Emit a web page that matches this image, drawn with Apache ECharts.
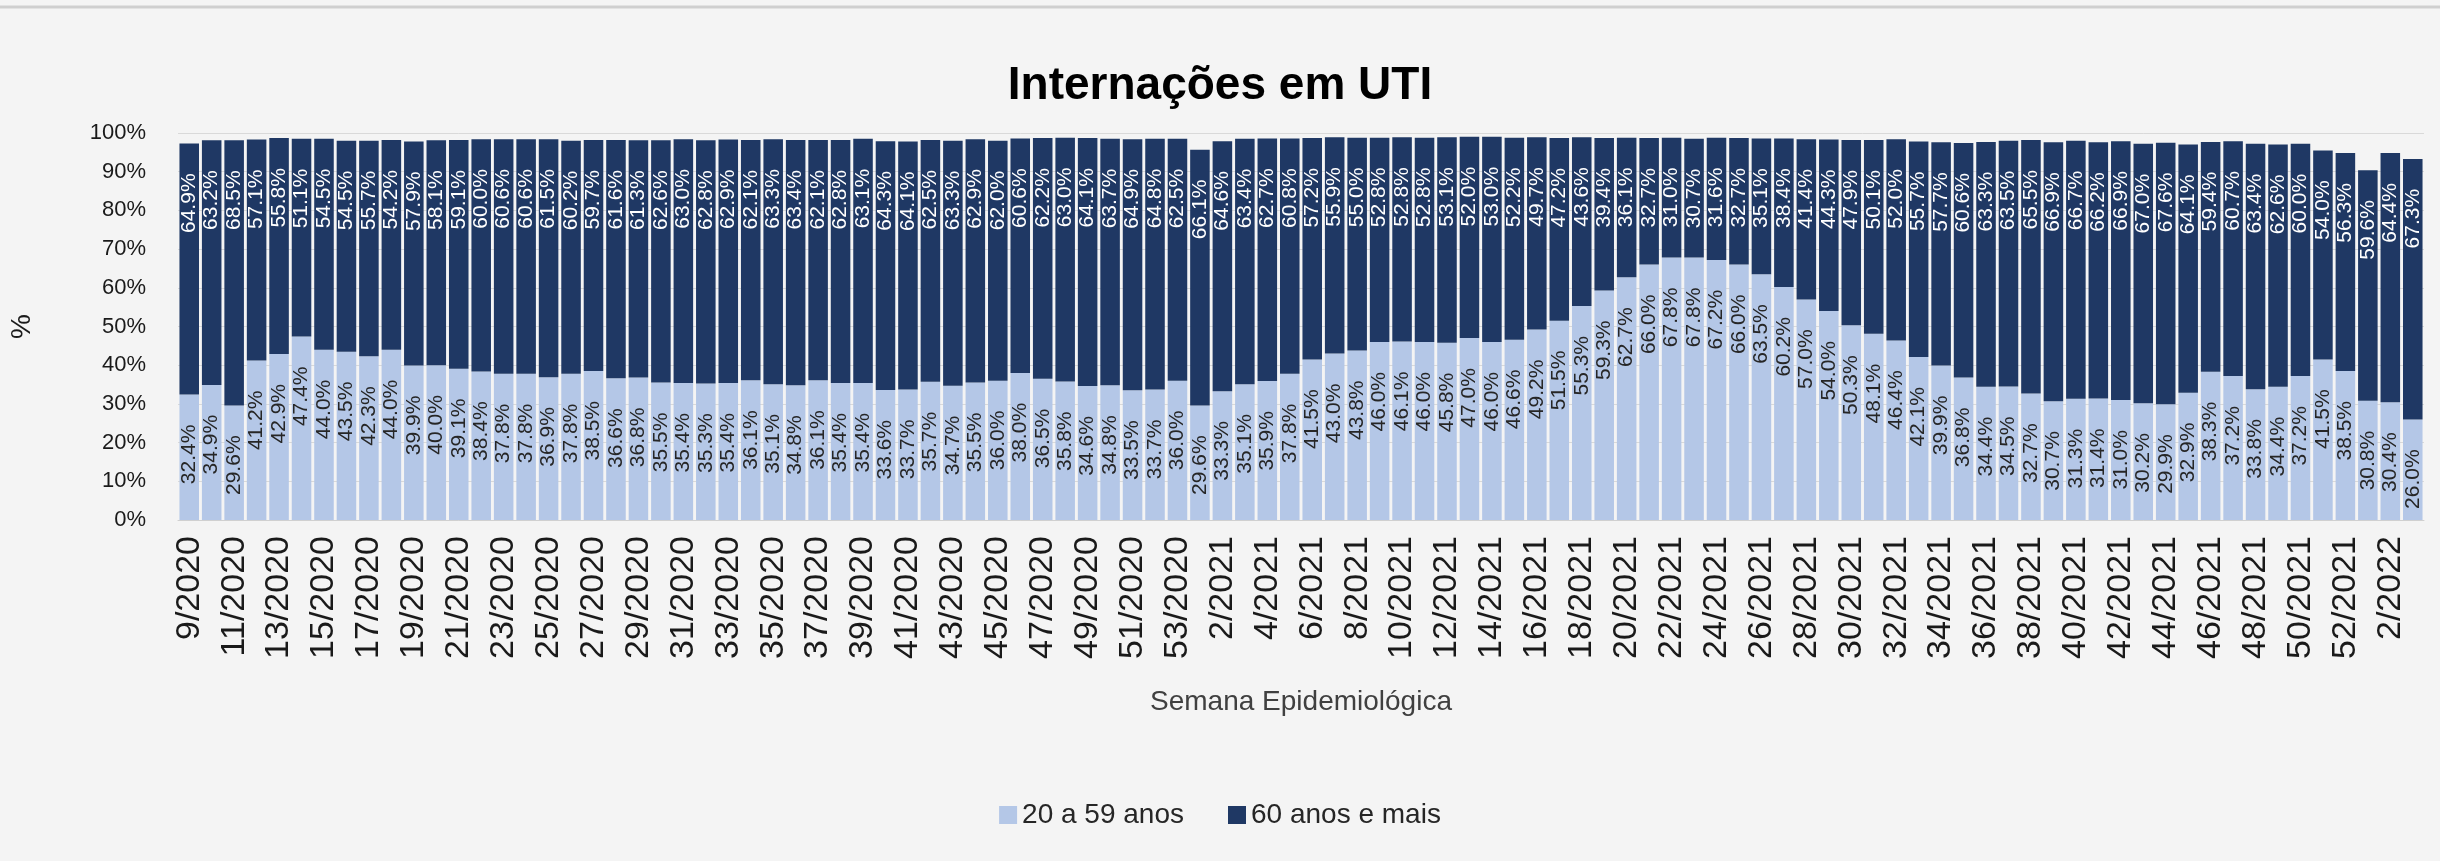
<!DOCTYPE html>
<html>
<head>
<meta charset="utf-8">
<title>Internações em UTI</title>
<script src="https://cdn.jsdelivr.net/npm/echarts@6/dist/echarts.min.js"></script>
<style>
  html, body { margin: 0; padding: 0; background: #f4f4f4; }
  #chart { width: 2440px; height: 861px; }
</style>
</head>
<body>
<div id="chart"></div>
<script>
// semanas epidemiológicas
const weeks2020 = [9,10,11,12,13,14,15,16,17,18,19,20,21,22,23,24,25,26,27,28,29,30,31,32,33,34,35,36,37,38,39,40,41,42,43,44,45,46,47,48,49,50,51,52,53];
const weeks2021 = [1,2,3,4,5,6,7,8,9,10,11,12,13,14,15,16,17,18,19,20,21,22,23,24,25,26,27,28,29,30,31,32,33,34,35,36,37,38,39,40,41,42,43,44,45,46,47,48,49,50,51,52];
const weeks2022 = [1,2,3];

const categories = []
  .concat(weeks2020.map(w => w + "/2020"))
  .concat(weeks2021.map(w => w + "/2021"))
  .concat(weeks2022.map(w => w + "/2022"));

// 20 a 59 anos (%)
const adultos = [
  32.4, 34.9, 29.6, 41.2, 42.9, 47.4, 44.0, 43.5, 42.3, 44.0,
  39.9, 40.0, 39.1, 38.4, 37.8, 37.8, 36.9, 37.8, 38.5, 36.6,
  36.8, 35.5, 35.4, 35.3, 35.4, 36.1, 35.1, 34.8, 36.1, 35.4,
  35.4, 33.6, 33.7, 35.7, 34.7, 35.5, 36.0, 38.0, 36.5, 35.8,
  34.6, 34.8, 33.5, 33.7, 36.0,
  29.6, 33.3, 35.1, 35.9, 37.8, 41.5, 43.0, 43.8, 46.0, 46.1,
  46.0, 45.8, 47.0, 46.0, 46.6, 49.2, 51.5, 55.3, 59.3, 62.7,
  66.0, 67.8, 67.8, 67.2, 66.0, 63.5, 60.2, 57.0, 54.0, 50.3,
  48.1, 46.4, 42.1, 39.9, 36.8, 34.4, 34.5, 32.7, 30.7, 31.3,
  31.4, 31.0, 30.2, 29.9, 32.9, 38.3, 37.2, 33.8, 34.4, 37.2,
  41.5, 38.5,
  30.8, 30.4, 26.0
];

// 60 anos e mais (%)
const idosos = [
  64.9, 63.2, 68.5, 57.1, 55.8, 51.1, 54.5, 54.5, 55.7, 54.2,
  57.9, 58.1, 59.1, 60.0, 60.6, 60.6, 61.5, 60.2, 59.7, 61.6,
  61.3, 62.6, 63.0, 62.8, 62.9, 62.1, 63.3, 63.4, 62.1, 62.8,
  63.1, 64.3, 64.1, 62.5, 63.3, 62.9, 62.0, 60.6, 62.2, 63.0,
  64.1, 63.7, 64.9, 64.8, 62.5,
  66.1, 64.6, 63.4, 62.7, 60.8, 57.2, 55.9, 55.0, 52.8, 52.8,
  52.8, 53.1, 52.0, 53.0, 52.2, 49.7, 47.2, 43.6, 39.4, 36.1,
  32.7, 31.0, 30.7, 31.6, 32.7, 35.1, 38.4, 41.4, 44.3, 47.9,
  50.1, 52.0, 55.7, 57.7, 60.6, 63.3, 63.5, 65.5, 66.9, 66.7,
  66.2, 66.9, 67.0, 67.6, 64.1, 59.4, 60.7, 63.4, 62.6, 60.0,
  54.0, 56.3,
  59.6, 64.4, 67.3
];

const yTicks = [0, 10, 20, 30, 40, 50, 60, 70, 80, 90, 100];

const chart = echarts.init(document.getElementById("chart"));

// rótulos verticais, dentro da barra perto do topo
const labelBase = {
  show: true,
  position: "insideTop",
  distance: 30,
  rotate: 90,
  align: "right",
  verticalAlign: "middle",
  fontFamily: "Liberation Sans",
  fontSize: 21,
  formatter: p => p.value.toFixed(1) + "%"
};

chart.setOption({
  backgroundColor: "#f4f4f4",
  animation: false,
  title: {
    text: "Internações em UTI",
    left: "center",
    top: 58,
    textStyle: {
      fontFamily: "Liberation Sans",
      fontSize: 46,
      fontWeight: "bold",
      color: "#000"
    }
  },
  graphic: [
    {
      type: "line",
      shape: { x1: 0, y1: 7, x2: 2440, y2: 7 },
      style: { stroke: "#cfcfcf", lineWidth: 3 }
    }
  ],
  legend: {
    data: ["20 a 59 anos", "60 anos e mais"],
    left: "center",
    top: 796,
    itemWidth: 18,
    itemHeight: 18,
    itemGap: 44,
    icon: "rect",
    textStyle: {
      fontFamily: "Liberation Sans",
      fontSize: 28,
      color: "#262626"
    }
  },
  grid: {
    left: 166,
    right: 16,
    top: 133,
    bottom: 341,
    containLabel: false
  },
  xAxis: {
    type: "category",
    data: categories,
    name: "Semana Epidemiológica",
    nameLocation: "middle",
    nameGap: 168,
    nameTextStyle: {
      fontFamily: "Liberation Sans",
      fontSize: 28,
      color: "#404040"
    },
    axisLine: { lineStyle: { color: "#d0d0d0" } },
    axisTick: { show: false },
    axisLabel: {
      interval: 1,
      rotate: 90,
      margin: 16,
      fontFamily: "Liberation Sans",
      fontSize: 34,
      color: "#1a1a1a"
    }
  },
  yAxis: {
    type: "value",
    min: 0,
    max: 100,
    interval: 10,
    name: "%",
    nameLocation: "middle",
    nameGap: 142,
    nameRotate: 90,
    nameTextStyle: {
      fontFamily: "Liberation Sans",
      fontSize: 28,
      color: "#1a1a1a"
    },
    axisLine: { show: false },
    axisTick: { show: false },
    splitLine: { lineStyle: { color: "#d9d9d9", width: 1 } },
    axisLabel: {
      margin: 32,
      fontFamily: "Liberation Sans",
      fontSize: 22,
      color: "#1a1a1a",
      formatter: v => (yTicks.includes(v) ? v + "%" : "")
    }
  },
  series: [
    {
      name: "20 a 59 anos",
      type: "bar",
      stack: "total",
      barCategoryGap: "13%",
      data: adultos,
      itemStyle: { color: "#b4c7e7" },
      label: Object.assign({}, labelBase, { color: "#262626" })
    },
    {
      name: "60 anos e mais",
      type: "bar",
      stack: "total",
      barCategoryGap: "13%",
      data: idosos,
      itemStyle: { color: "#1f3864" },
      label: Object.assign({}, labelBase, { color: "#ffffff" })
    }
  ]
});
</script>
</body>
</html>
